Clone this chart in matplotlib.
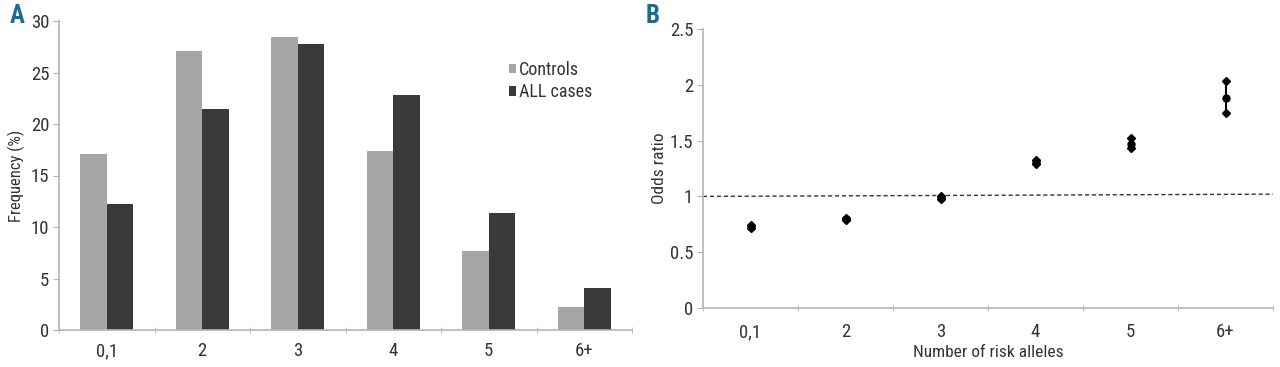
import numpy as np
import matplotlib.pyplot as plt
from matplotlib import font_manager

# Data
categories = ['0,1', '2', '3', '4', '5', '6+']
controls = [17.1, 27.1, 28.4, 17.4, 7.7, 2.2]
all_cases = [12.2, 21.5, 27.8, 22.8, 11.4, 4.1]
odds_ratio = [0.73, 0.80, 0.99, 1.31, 1.47, 1.88]
ci_low = [0.72, 0.79, 0.98, 1.29, 1.43, 1.75]
ci_high = [0.74, 0.81, 1.00, 1.33, 1.52, 2.03]
ref_line = [1.0, 1.02]

fonts = font_manager.fontManager.ttflist
names = {f.name for f in fonts}
fam = 'DejaVu Sans'
for cand in ['Liberation Sans Narrow', 'Roboto Condensed', 'Open Sans Condensed']:
    if cand in names:
        fam = cand
        break
plt.rcParams['font.family'] = [fam, 'DejaVu Sans']
if fam == 'DejaVu Sans' and any('Condensed' in f.fname and 'DejaVuSans' in f.fname for f in fonts):
    plt.rcParams['font.stretch'] = 'condensed'

grey_axis = '#b4b4b4'
txt = '#333333'
c_ctrl = '#a6a6a6'
c_case = '#3a3a3a'
blue = '#1b6c93'

fig = plt.figure(figsize=(12.8, 3.67), dpi=100)
axA = fig.add_axes([59/1280, 1-330/367, (632-59)/1280, (330-21)/367])
axB = fig.add_axes([703/1280, 1-308/367, (1273-703)/1280, (308-29)/367])

x = np.arange(len(categories))
w = 0.28
axA.bar(x - w/2, controls, w, color=c_ctrl, label='Controls')
axA.bar(x + w/2, all_cases, w, color=c_case, label='ALL cases')
axA.set_xlim(-0.5, len(categories) - 0.5)
axA.set_ylim(0, 30)
axA.set_yticks(range(0, 31, 5))
axA.set_ylabel('Frequency (%)', fontsize=12, color=txt, labelpad=4)
leg = axA.legend(loc='upper left', bbox_to_anchor=(0.77, 0.9), frameon=False,
                 fontsize=13, handlelength=0.4, handleheight=0.4, handletextpad=0.15,
                 labelspacing=0.25, borderpad=0)
for t in leg.get_texts():
    t.set_color(txt)

# panel B
axB.plot([-0.5, len(categories) - 0.5], ref_line, ls='--', color='#333333', lw=1, dashes=(3, 2))
axB.vlines(x, ci_low, ci_high, color='black', lw=1.5)
axB.plot(x, ci_low, 'D', color='black', ms=4.5)
axB.plot(x, ci_high, 'D', color='black', ms=4.5)
axB.plot(x, odds_ratio, 'o', color='black', ms=5)
axB.set_xlim(-0.5, len(categories) - 0.5)
axB.set_ylim(0, 2.5)
axB.set_yticks([0, 0.5, 1, 1.5, 2, 2.5])
axB.set_yticklabels(['0', '0.5', '1', '1.5', '2', '2.5'])
axB.set_ylabel('Odds ratio', fontsize=12.5, color=txt, labelpad=2)
axB.set_xlabel('Number of risk alleles', fontsize=12.5, color=txt, labelpad=3)

for ax in (axA, axB):
    for s in ('top', 'right'):
        ax.spines[s].set_visible(False)
    for s in ('left', 'bottom'):
        ax.spines[s].set_color(grey_axis)
        ax.spines[s].set_linewidth(1.2)
    ax.set_xticks(x)
    ax.set_xticklabels(categories)
    ax.set_xticks(np.arange(-0.5, len(categories)), minor=True)
    ax.tick_params(axis='x', which='minor', length=4, direction='inout', color=grey_axis)
    ax.tick_params(axis='y', length=4, color=grey_axis, labelsize=13.5, labelcolor=txt, pad=3)
axA.tick_params(axis='x', which='major', length=0, pad=9, labelsize=13.5, labelcolor=txt)
axB.tick_params(axis='x', which='major', length=0, pad=11, labelsize=13.5, labelcolor=txt)

fig.text(10/1280, 1-16/367, 'A', color=blue, fontsize=18, fontweight='bold', va='center', ha='left')
fig.text(646/1280, 1-16/367, 'B', color=blue, fontsize=18, fontweight='bold', va='center', ha='left')

fig.savefig('out.png', dpi=100)
